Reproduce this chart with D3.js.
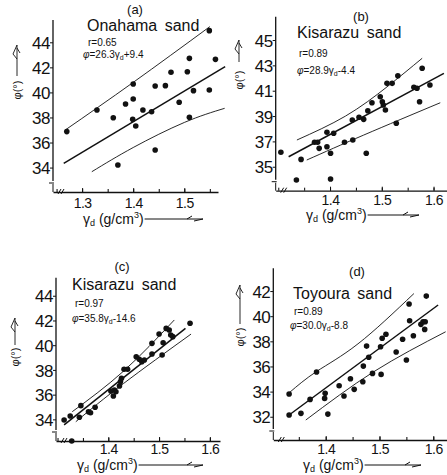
<!DOCTYPE html>
<html>
<head>
<meta charset="utf-8">
<script src="https://cdn.jsdelivr.net/npm/d3@7"></script>
<style>
  body { margin: 0; background: #fff; }
  svg text { font-family: "Liberation Sans", Arial, sans-serif; fill: #111; }
</style>
</head>
<body>
<svg id="chart" width="447" height="475"></svg>
<script>
// ---- (a) Onahama sand
const aGamma = [1.270,1.329,1.361,1.385,1.400,1.400,1.399,1.405,1.419,1.436,1.443,1.443,1.370,1.463,1.474,1.490,1.506,1.510,1.510,1.518,1.549,1.549,1.561];
const aPhi   = [36.87,38.60,37.98,39.08,40.67,39.47,37.85,37.32,38.60,38.46,40.51,35.40,34.21,40.54,41.61,39.21,41.65,42.72,38.01,40.14,40.19,44.93,42.64];
const aFit   = [[1.264,34.34],[1.580,42.05]];
const aUpper = [[1.267,37.0],[1.40,40.8],[1.55,45.25]];
const aLower = [[1.319,33.67],[1.40,35.6],[1.50,37.6],[1.579,38.73]];
const aXTicks = [1.3,1.4,1.5];
const aYTicks = [34,36,38,40,42,44];

// ---- (b) Kisarazu sand
const bGamma = [1.305,1.344,1.335,1.401,1.370,1.376,1.379,1.394,1.401,1.394,1.407,1.428,1.444,1.443,1.456,1.465,1.470,1.473,1.481,1.497,1.501,1.503,1.507,1.510,1.520,1.528,1.531,1.562,1.568,1.573,1.578,1.593];
const bPhi   = [36.14,35.58,33.95,34.03,36.93,36.93,36.45,36.58,36.06,37.72,37.64,36.93,37.11,38.69,38.90,38.74,36.06,39.42,40.05,40.52,40.13,39.87,39.48,41.58,41.58,38.43,42.18,41.27,41.19,40.13,42.77,41.45];
const bFit   = [[1.320,35.79],[1.620,42.37]];
const bUpper = [[1.336,37.11],[1.43,39.0],[1.51,41.3],[1.578,43.56]];
const bLower = [[1.355,35.53],[1.465,37.5],[1.613,40.05]];
const bXTicks = [1.4,1.5,1.6];
const bYTicks = [35,37,39,41,43,45];

// ---- (c) Kisarazu sand
const cGamma = [1.313,1.325,1.343,1.346,1.361,1.365,1.374,1.405,1.412,1.410,1.415,1.422,1.424,1.426,1.431,1.438,1.455,1.461,1.466,1.471,1.486,1.486,1.500,1.508,1.506,1.514,1.520,1.523,1.527,1.561,1.328];
const cPhi   = [33.95,34.27,34.17,35.11,34.62,34.54,34.98,36.30,36.38,35.89,36.24,36.70,37.05,37.32,38.05,38.05,39.07,38.86,38.66,38.80,40.15,39.29,40.90,40.20,39.21,41.36,41.23,40.82,40.69,41.77,32.25];
const cFit   = [[1.313,33.55],[1.552,41.36]];
const cUpper = [[1.329,34.62],[1.43,37.9],[1.530,42.04]];
const cLower = [[1.336,33.81],[1.43,36.9],[1.563,40.9]];
const cXTicks = [1.4,1.5,1.6];
const cYTicks = [34,36,38,40,42,44];

// ---- (d) Toyoura sand
const dGamma = [1.332,1.383,1.354,1.371,1.332,1.399,1.398,1.404,1.425,1.434,1.446,1.453,1.470,1.469,1.476,1.480,1.487,1.503,1.502,1.505,1.512,1.531,1.543,1.550,1.555,1.556,1.563,1.577,1.581,1.584,1.585,1.587];
const dPhi   = [33.81,35.56,32.27,33.38,32.14,33.86,33.46,32.21,34.47,33.65,35.02,34.18,36.03,34.78,37.62,36.73,35.45,35.37,37.57,38.24,38.56,37.15,38.16,36.51,40.97,39.64,38.44,39.35,39.56,38.95,39.56,41.60];
const dFit   = [[1.332,32.14],[1.609,40.89]];
const dUpper = [[1.332,33.9],[1.383,35.6],[1.46,37.8],[1.564,41.8]];
const dLower = [[1.363,31.74],[1.49,35.6],[1.623,38.76]];
const dXTicks = [1.4,1.5,1.6];
const dYTicks = [32,34,36,38,40,42];

const panels = [
  { tag: "(a)", title: "Onahama sand", r: "0.65", coef: "26.3", cst: "+9.4",
    gamma: aGamma, phi: aPhi, fit: aFit, upper: aUpper, lower: aLower, xTicks: aXTicks, yTicks: aYTicks,
    left: 53, right: 218, top: 20, bottom: 192, xDom: [1.243, 1.566], yDom: [32.05, 45.78],
    tagPos: [135, 14], titlePos: [87, 31], rPos: [88, 46], eqPos: [83, 58],
    xLabPos: [83, 224], arrowEnd: 203, yLab: [17, 90], yArrow: [76, 45], tickDy: 16 },
  { tag: "(b)", title: "Kisarazu sand", r: "0.89", coef: "28.9", cst: "-4.4",
    gamma: bGamma, phi: bPhi, fit: bFit, upper: bUpper, lower: bLower, xTicks: bXTicks, yTicks: bYTicks,
    left: 275.7, right: 447, top: 16.7, bottom: 190.7, xDom: [1.295, 1.626], yDom: [33.11, 46.84],
    tagPos: [361, 21], titlePos: [297, 38], rPos: [299, 57], eqPos: [297, 74],
    xLabPos: [306, 220], arrowEnd: 419, yLab: [239, 80], yArrow: [62, 40], tickDy: 14 },
  { tag: "(c)", title: "Kisarazu sand", r: "0.97", coef: "35.8", cst: "-14.6",
    gamma: cGamma, phi: cPhi, fit: cFit, upper: cUpper, lower: cLower, xTicks: cXTicks, yTicks: cYTicks,
    left: 56, right: 220, top: 277.7, bottom: 441, xDom: [1.297, 1.620], yDom: [32.25, 45.46],
    tagPos: [122, 271], titlePos: [72, 290], rPos: [75, 307], eqPos: [72, 322],
    xLabPos: [77, 470], arrowEnd: 203, yLab: [15, 357], yArrow: [345, 318], tickDy: 13 },
  { tag: "(d)", title: "Toyoura sand", r: "0.89", coef: "30.0", cst: "-8.8",
    gamma: dGamma, phi: dPhi, fit: dFit, upper: dUpper, lower: dLower, xTicks: dXTicks, yTicks: dYTicks,
    left: 273.3, right: 447, top: 268.3, bottom: 440, xDom: [1.3026, 1.6255], yDom: [30.15, 43.81],
    tagPos: [357, 276], titlePos: [293, 299], rPos: [294, 315], eqPos: [290, 329],
    xLabPos: [303, 470], arrowEnd: 421, yLab: [240, 337], yArrow: [324, 285], tickDy: 14 }
];

const svg = d3.select("#chart");
svg.append("rect").attr("width", 447).attr("height", 475).attr("fill", "#fff");

panels.forEach(p => {
  const g = svg.append("g");
  const x = d3.scaleLinear().domain(p.xDom).range([p.left, p.right]);
  const y = d3.scaleLinear().domain(p.yDom).range([p.bottom, p.top]);

  // x axis: minor ticks, then labelled major ticks (pointing up)
  const minor = d3.range(Math.ceil(p.xDom[0] * 20), Math.floor(p.xDom[1] * 20) + 1).map(v => v / 20);
  g.append("g").attr("transform", `translate(0,${p.bottom})`)
    .call(d3.axisBottom(x).tickValues(minor).tickSize(-3).tickSizeOuter(0).tickFormat(""))
    .call(a => a.select(".domain").attr("stroke", "#111").attr("stroke-width", 1.3));
  const xa = g.append("g").attr("transform", `translate(0,${p.bottom})`)
    .call(d3.axisBottom(x).tickValues(p.xTicks).tickSize(-4).tickFormat(d3.format(".1f")));
  xa.select(".domain").remove();
  xa.selectAll("line").attr("stroke", "#111");
  xa.selectAll("text").attr("y", p.tickDy).attr("dy", 0)
    .attr("font-size", 14).attr("letter-spacing", -0.5).attr("fill", "#111");

  // y axis with a break near the origin
  const ya = g.append("g").attr("transform", `translate(${p.left},0)`)
    .call(d3.axisLeft(y).tickValues(p.yTicks).tickSize(3));
  ya.select(".domain").remove();
  ya.selectAll("line").attr("stroke", "#111");
  ya.selectAll("text").attr("x", -3).attr("dy", "0.36em")
    .attr("font-size", 17).attr("letter-spacing", -0.5).attr("fill", "#111");
  g.append("line").attr("x1", p.left).attr("x2", p.left)
    .attr("y1", p.top).attr("y2", p.bottom - 11)
    .attr("stroke", "#111").attr("stroke-width", 1.3);
  g.append("path")
    .attr("d", `M${p.left - 4},${p.bottom - 9}H${p.left + 1}M${p.left},${p.bottom - 8}V${p.bottom}` +
               `M${p.left + 5},${p.bottom + 2}l3,-5M${p.left + 8},${p.bottom + 2}l3,-5`)
    .attr("fill", "none").attr("stroke", "#111").attr("stroke-width", 1);

  // regression line and confidence curves
  const line = d3.line().x(d => x(d[0])).y(d => y(d[1])).curve(d3.curveNatural);
  g.append("path").attr("d", line(p.fit)).attr("fill", "none")
    .attr("stroke", "#111").attr("stroke-width", 1.5);
  [p.upper, p.lower].forEach(c => {
    g.append("path").attr("d", line(c)).attr("fill", "none")
      .attr("stroke", "#111").attr("stroke-width", 0.9);
  });

  // points
  g.selectAll("circle.pt").data(d3.zip(p.gamma, p.phi)).join("circle")
    .attr("class", "pt")
    .attr("cx", d => x(d[0])).attr("cy", d => y(d[1])).attr("r", 2.8)
    .attr("fill", "#111");

  // texts
  g.append("text").attr("x", p.tagPos[0]).attr("y", p.tagPos[1])
    .attr("text-anchor", "middle").attr("font-size", 13).text(p.tag);
  g.append("text").attr("x", p.titlePos[0]).attr("y", p.titlePos[1])
    .attr("font-size", 16).attr("word-spacing", 3).text(p.title);
  g.append("text").attr("x", p.rPos[0]).attr("y", p.rPos[1])
    .attr("font-size", 10).text("r=" + p.r);
  const eq = g.append("text").attr("x", p.eqPos[0]).attr("y", p.eqPos[1]).attr("font-size", 10);
  eq.append("tspan").attr("font-style", "italic").text("φ");
  eq.append("tspan").text("=" + p.coef + "γ");
  eq.append("tspan").attr("font-size", 7).attr("dy", 2).text("d");
  eq.append("tspan").attr("dy", -2).text(p.cst);

  // x label with arrow
  const xl = g.append("text").attr("x", p.xLabPos[0]).attr("y", p.xLabPos[1]).attr("font-size", 14);
  xl.append("tspan").text("γ");
  xl.append("tspan").attr("font-size", 9).attr("dy", 2).text("d");
  xl.append("tspan").attr("dy", -2).text(" (g/cm");
  xl.append("tspan").attr("font-size", 9).attr("dy", -6).text("3");
  xl.append("tspan").attr("dy", 6).text(")");
  const xlEnd = p.xLabPos[0] + xl.node().getComputedTextLength() + 1;
  const ay = p.xLabPos[1] - 5;
  g.append("path")
    .attr("d", `M${xlEnd},${ay}H${p.arrowEnd}M${p.arrowEnd - 16},${ay}l5,-3M${p.arrowEnd},${ay}l-9,2`)
    .attr("fill", "none").attr("stroke", "#111").attr("stroke-width", 1);

  // y label with arrow
  g.append("text")
    .attr("transform", `translate(${p.yLab[0]},${p.yLab[1]}) rotate(-90)`)
    .attr("text-anchor", "middle").attr("dy", "0.35em").attr("font-size", 11)
    .text("φ(°)");
  const ax = p.yLab[0];
  g.append("path")
    .attr("d", `M${ax},${p.yArrow[0]}V${p.yArrow[1]}M${ax},${p.yArrow[1] + 14}l-4,-5l4,-9M${ax},${p.yArrow[1] + 3}l3,5`)
    .attr("fill", "none").attr("stroke", "#111").attr("stroke-width", 0.9);
});
</script>
</body>
</html>
